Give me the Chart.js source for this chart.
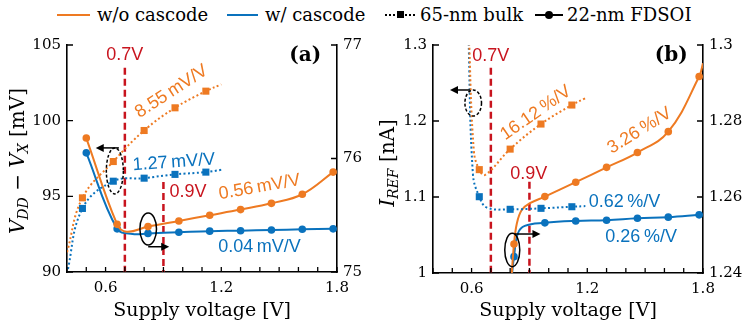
<!DOCTYPE html>
<html>
<head>
<meta charset="utf-8">
<title>Supply voltage sensitivity</title>
<script src="https://cdn.jsdelivr.net/npm/chart.js"></script>
<style>
  body { margin: 0; background: #fff; }
  #wrap { position: relative; width: 747px; height: 332px; overflow: hidden; font-family: 'DejaVu Serif', serif; }
  canvas { position: absolute; top: 0; }
  #chartA { left: 0; }
  #chartB { left: 373px; }
  .txt { position: absolute; top: 4px; font-size: 18px; line-height: 22px; white-space: nowrap; color: #000; }
  .ln { position: absolute; top: 14px; height: 0; border-top: 2px solid #000; }
  .mk { position: absolute; background: #000; }
</style>
</head>
<body>
<div id="wrap">
  <div class="ln" style="left:57px;width:33px;border-color:#ee7a22"></div>
  <div class="txt" style="left:97px">w/o cascode</div>
  <div class="ln" style="left:227px;width:31px;border-color:#0a72bd"></div>
  <div class="txt" style="left:265px">w/ cascode</div>
  <div class="ln" style="left:385px;width:30px;border-top-style:dotted"></div>
  <div class="mk" style="left:397px;top:11px;width:7px;height:7px"></div>
  <div class="txt" style="left:420px">65-nm bulk</div>
  <div class="ln" style="left:535px;width:28px"></div>
  <div class="mk" style="left:545px;top:11px;width:8px;height:8px;border-radius:50%"></div>
  <div class="txt" style="left:567px">22-nm FDSOI</div>
  <canvas id="chartA" width="373" height="332"></canvas>
  <canvas id="chartB" width="374" height="332"></canvas>
</div>

<script>
  const ORANGE = '#ee7a22';
  const BLUE = '#0a72bd';
  const RED = '#c8141e';

  // ---- panel (a): V_DD - V_X ----
  // 65-nm bulk (left axis, mV); marks = measured points with squares
  const aBulkMarks = [0.48, 0.64, 0.80, 0.96, 1.12];
  const aBulkWoX = [0.40, 0.48, 0.64, 0.80, 0.96, 1.12, 1.20];
  const aBulkWoY = [91.3, 94.9, 97.3, 99.35, 100.85, 101.95, 102.4];
  const aBulkWX = [0.40, 0.48, 0.64, 0.80, 0.96, 1.12, 1.20];
  const aBulkWY = [89.9, 94.2, 96.0, 96.2, 96.45, 96.6, 96.75];
  // 22-nm FDSOI (right axis, mV)
  const aSoiMarks = [0.50, 0.66, 0.82, 0.98, 1.14, 1.30, 1.46, 1.62, 1.78];
  const aSoiWoX = [0.50, 0.66, 0.71, 0.82, 0.98, 1.14, 1.30, 1.46, 1.62, 1.78];
  const aSoiWoY = [76.18, 75.42, 75.355, 75.40, 75.45, 75.50, 75.55, 75.605, 75.685, 75.88];
  const aSoiWX = [0.50, 0.66, 0.74, 0.82, 0.98, 1.14, 1.30, 1.46, 1.62, 1.78];
  const aSoiWY = [76.05, 75.38, 75.335, 75.34, 75.35, 75.36, 75.364, 75.37, 75.376, 75.38];

  // ---- panel (b): I_REF ----
  const bBulkMarks = [0.64, 0.80, 0.96, 1.12];
  const bBulkWoX = [0.585, 0.612, 0.64, 0.67, 0.80, 0.96, 1.12, 1.19];
  const bBulkWoY = [1.32, 1.16, 1.136, 1.129, 1.163, 1.196, 1.221, 1.23];
  const bBulkWX = [0.583, 0.607, 0.64, 0.68, 0.80, 0.96, 1.12, 1.19];
  const bBulkWY = [1.32, 1.13, 1.1004, 1.086, 1.0838, 1.0851, 1.0872, 1.088];
  const bSoiMarks = [0.82, 0.98, 1.14, 1.30, 1.46, 1.62, 1.78];
  const bSoiWoX = [0.806, 0.82, 0.835, 0.86, 0.90, 0.98, 1.14, 1.30, 1.46, 1.62, 1.78, 1.80];
  const bSoiWoY = [1.238, 1.2476, 1.2531, 1.2566, 1.2583, 1.2601, 1.2639, 1.2678, 1.2717, 1.2772, 1.2917, 1.2952];
  const bSoiWX = [0.806, 0.82, 0.84, 0.876, 0.98, 1.14, 1.30, 1.46, 1.62, 1.78];
  const bSoiWY = [1.238, 1.2443, 1.2504, 1.2524, 1.2532, 1.2537, 1.2539, 1.2544, 1.2547, 1.2553];

  const pts = (xs, ys) => xs.map((x, i) => ({ x: x, y: ys[i] }));

  function series(xs, ys, marks, color, axis, dotted) {
    return {
      data: pts(xs, ys),
      yAxisID: axis,
      borderColor: color,
      backgroundColor: color,
      borderWidth: 2,
      borderDash: dotted ? [2, 2.5] : [],
      tension: 0.4,
      pointStyle: dotted ? 'rect' : 'circle',
      pointRadius: c => marks.some(m => Math.abs(m - c.raw.x) < 1e-6) ? (dotted ? 5 : 3.8) : 0,
      pointBorderWidth: 0,
      pointHoverRadius: 0
    };
  }

  // draw a title made of runs (italic / subscript), rotated -90deg
  function drawRuns(ctx, runs, cx, cy) {
    const font = r => (r.it ? 'italic ' : '') + (r.sub ? '14px' : '20px') + ' "DejaVu Serif"';
    let total = 0;
    runs.forEach(r => { ctx.font = font(r); r.w = ctx.measureText(r.t).width; total += r.w; });
    ctx.save();
    ctx.translate(cx, cy);
    ctx.rotate(-Math.PI / 2);
    ctx.textAlign = 'left';
    ctx.textBaseline = 'alphabetic';
    let px = -total / 2;
    runs.forEach(r => {
      ctx.font = font(r);
      ctx.fillText(r.t, px, r.sub ? 11 : 7);
      px += r.w;
    });
    ctx.restore();
  }

  const paperFrame = {
    id: 'paperFrame',
    afterDraw(chart, args, o) {
      const { ctx, chartArea: a, scales } = chart;
      ctx.save();
      ctx.strokeStyle = '#000';
      ctx.lineWidth = 1.3;
      ctx.beginPath();
      scales.x.ticks.forEach(t => {
        const px = scales.x.getPixelForValue(t.value);
        ctx.moveTo(px, a.bottom); ctx.lineTo(px, a.bottom - 5);
      });
      scales.y.ticks.forEach(t => {
        const py = scales.y.getPixelForValue(t.value);
        ctx.moveTo(a.left, py); ctx.lineTo(a.left + 6, py);
      });
      scales.y2.ticks.forEach(t => {
        const py = scales.y2.getPixelForValue(t.value);
        ctx.moveTo(a.right, py); ctx.lineTo(a.right - 6, py);
      });
      ctx.stroke();
      ctx.fillStyle = '#000';
      ctx.font = '19px "DejaVu Serif"';
      ctx.textAlign = 'center';
      ctx.textBaseline = 'middle';
      ctx.fillText('Supply voltage [V]', (a.left + a.right) / 2, 311);
      drawRuns(ctx, o.yTitle, o.titleX, o.titleY);
      ctx.restore();
    }
  };

  const notes = {
    id: 'notes',
    beforeDatasetsDraw(chart, args, o) {
      const { ctx, chartArea: a, scales: { x, y } } = chart;
      ctx.save();
      ctx.strokeStyle = RED;
      ctx.lineWidth = 2.5;
      ctx.setLineDash([7, 4]);
      o.vlines.forEach(([vx, vTop]) => {
        const px = x.getPixelForValue(vx);
        ctx.beginPath();
        ctx.moveTo(px, y.getPixelForValue(vTop));
        ctx.lineTo(px, a.bottom);
        ctx.stroke();
      });
      ctx.restore();
    },
    afterDatasetsDraw(chart, args, o) {
      const { ctx, scales: { x, y } } = chart;
      ctx.save();
      // ellipses marking which curves belong to which axis
      ctx.strokeStyle = '#000';
      ctx.lineWidth = 1.5;
      o.ellipses.forEach(([ex, ey, rx, ry, dashed]) => {
        ctx.setLineDash(dashed ? [3, 2] : []);
        ctx.beginPath();
        ctx.ellipse(x.getPixelForValue(ex), y.getPixelForValue(ey), rx, ry, 0, 0, Math.PI * 2);
        ctx.stroke();
      });
      ctx.setLineDash([]);
      o.arrows.forEach(([x0, x1, ay]) => {
        const p0 = x.getPixelForValue(x0), p1 = x.getPixelForValue(x1), py = y.getPixelForValue(ay);
        const dir = Math.sign(p1 - p0);
        ctx.beginPath();
        ctx.moveTo(p0, py); ctx.lineTo(p1 - dir * 5, py);
        ctx.stroke();
        ctx.beginPath();
        ctx.moveTo(p1, py);
        ctx.lineTo(p1 - dir * 8, py - 4);
        ctx.lineTo(p1 - dir * 8, py + 4);
        ctx.closePath();
        ctx.fillStyle = '#000';
        ctx.fill();
      });
      // labels
      o.texts.forEach(([t, tx, ty, color, rot, font]) => {
        ctx.save();
        ctx.translate(x.getPixelForValue(tx), y.getPixelForValue(ty));
        ctx.rotate(rot * Math.PI / 180);
        ctx.font = font || '18px "Liberation Sans"';
        ctx.fillStyle = color;
        ctx.textAlign = 'center';
        ctx.textBaseline = 'middle';
        ctx.fillText(t, 0, 0);
        ctx.restore();
      });
      ctx.restore();
    }
  };

  const tickFont = { family: 'DejaVu Serif', size: 15 };
  const numLabel = v => String(+v.toFixed(2));

  function makeChart(id, datasets, ax) {
    return new Chart(document.getElementById(id), {
      type: 'line',
      data: { datasets: datasets },
      plugins: [notes, paperFrame],
      options: {
        responsive: false,
        animation: false,
        devicePixelRatio: 1,
        events: [],
        layout: { padding: { top: 45, left: 0, right: 0, bottom: 0 } },
        plugins: {
          legend: { display: false },
          tooltip: { enabled: false },
          notes: ax.notes,
          paperFrame: { yTitle: ax.yTitle, titleX: ax.titleX, titleY: ax.titleY }
        },
        scales: {
          x: {
            type: 'linear', min: 0.4, max: 1.8,
            grid: { display: false, drawTicks: false },
            border: { display: true, color: '#000', width: 1.6 },
            ticks: {
              stepSize: 0.1, autoSkip: false, maxRotation: 0, padding: 7,
              color: '#000', font: tickFont,
              callback: v => { const k = Math.round(v * 10); return k % 6 === 0 ? (k / 10).toFixed(1) : ''; }
            },
            afterFit: s => { s.height = ax.xh; }
          },
          y: {
            position: 'left', min: ax.y[0], max: ax.y[1],
            grid: { display: false, drawTicks: false },
            border: { display: true, color: '#000', width: 1.6 },
            ticks: { stepSize: ax.y[2], padding: 6, color: '#000', font: tickFont, callback: numLabel },
            afterFit: s => { s.width = ax.lw; }
          },
          y2: {
            position: 'right', min: ax.y2[0], max: ax.y2[1],
            grid: { display: false, drawTicks: false },
            border: { display: true, color: '#000', width: 1.6 },
            ticks: { stepSize: ax.y2[2], padding: 6, color: '#000', font: tickFont, callback: numLabel },
            afterFit: s => { s.width = ax.rw; }
          }
        }
      }
    });
  }

  makeChart('chartA', [
    series(aBulkWoX, aBulkWoY, aBulkMarks, ORANGE, 'y', true),
    series(aBulkWX, aBulkWY, aBulkMarks, BLUE, 'y', true),
    series(aSoiWoX, aSoiWoY, aSoiMarks, ORANGE, 'y2', false),
    series(aSoiWX, aSoiWY, aSoiMarks, BLUE, 'y2', false)
  ], {
    y: [90, 105, 5], y2: [75, 77, 1], lw: 67, rw: 36, xh: 60,
    yTitle: [{ t: 'V', it: 1 }, { t: 'DD', it: 1, sub: 1 }, { t: ' \u2212 ' }, { t: 'V', it: 1 }, { t: 'X', it: 1, sub: 1 }, { t: ' [mV]' }],
    titleX: 17, titleY: 161,
    notes: {
      vlines: [[0.7, 103.5], [0.9, 95.95]],
      ellipses: [[0.648, 96.68, 8.5, 23, true], [0.821, 92.84, 8.3, 16, false]],
      arrows: [[0.669, 0.549, 98.2], [0.821, 0.93, 91.67]],
      texts: [
        ['0.7V', 0.70, 104.34, RED, 0],
        ['0.9V', 1.027, 95.26, RED, 0],
        ['8.55\u2009mV/V', 0.942, 101.92, ORANGE, -33],
        ['1.27\u2009mV/V', 0.954, 97.24, BLUE, -4],
        ['0.56\u2009mV/V', 1.398, 95.6, ORANGE, -10],
        ['0.04\u2009mV/V', 1.398, 91.63, BLUE, 0],
        ['(a)', 1.635, 104.28, '#000', 0, 'bold 20px "DejaVu Serif"']
      ]
    }
  });

  makeChart('chartB', [
    series(bBulkWoX, bBulkWoY, bBulkMarks, ORANGE, 'y', true),
    series(bBulkWX, bBulkWY, bBulkMarks, BLUE, 'y', true),
    series(bSoiWoX, bSoiWoY, bSoiMarks, ORANGE, 'y2', false),
    series(bSoiWX, bSoiWY, bSoiMarks, BLUE, 'y2', false)
  ], {
    y: [1, 1.3, 0.1], y2: [1.24, 1.3, 0.02], lw: 60, rw: 44, xh: 59,
    yTitle: [{ t: 'I', it: 1 }, { t: 'REF', it: 1, sub: 1 }, { t: ' [nA]' }],
    titleX: 14, titleY: 163,
    notes: {
      vlines: [[0.7, 1.27], [0.9, 1.12]],
      ellipses: [[0.6085, 1.2237, 8.3, 13, true], [0.811, 1.0303, 7.5, 16.7, false]],
      arrows: [[0.591, 0.488, 1.2408], [0.824, 0.957, 1.0513]],
      texts: [
        ['0.7V', 0.70, 1.2855, RED, 0],
        ['0.9V', 0.897, 1.130, RED, 0],
        ['16.12\u2009%/V', 0.933, 1.2105, ORANGE, -35],
        ['3.26\u2009%/V', 1.471, 1.1872, ORANGE, -32],
        ['0.62\u2009%/V', 1.393, 1.0938, BLUE, 0],
        ['0.26\u2009%/V', 1.479, 1.0478, BLUE, 0],
        ['(b)', 1.635, 1.286, '#000', 0, 'bold 20px "DejaVu Serif"']
      ]
    }
  });
</script>
</body>
</html>
